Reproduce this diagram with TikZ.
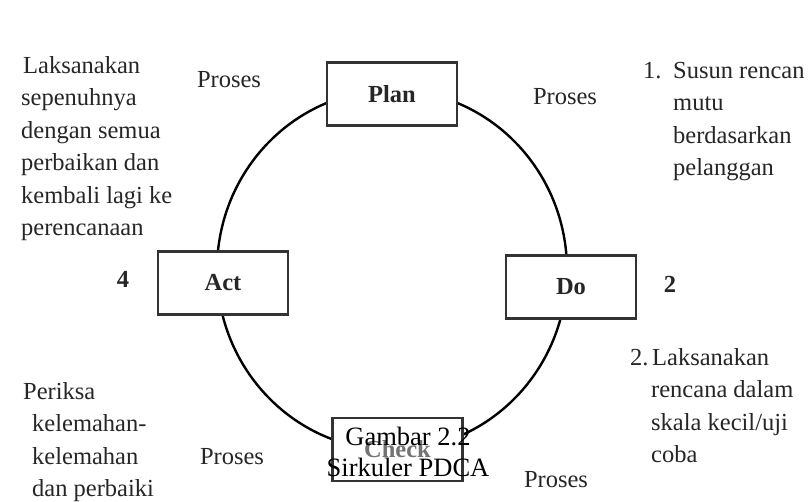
\documentclass[tikz,border=0pt]{standalone}
\usepackage{fontspec}
\setmainfont{Liberation Serif}

\begin{document}
\begin{tikzpicture}[x=1pt,y=-1pt]
\tikzstyle{every node}+=[inner sep=0pt, text=black!85]
\tikzstyle{pdcabox}=[draw=black!80, line width=2.4pt, fill=white, minimum width=130pt, minimum height=63pt, font=\fontsize{24.5}{32}\selectfont\bfseries]
% base of a note = baseline of its last line
\tikzstyle{note}=[align=left, anchor=base west, font=\fontsize{24.5}{32.5}\selectfont]
\tikzstyle{word}=[font=\fontsize{24.5}{32}\selectfont]
\tikzstyle{caption}=[align=center, text=black, font=\fontsize{26.5}{31}\selectfont]
\useasboundingbox [fill=white] (0,0) rectangle (811,501);
% the cycle
\coordinate (c) at (392,270);
\draw [black, line width=2.4pt] (c) ellipse [x radius=175, y radius=180];
\node [pdcabox] (plan) at (392,94) {Plan};
\node [pdcabox] (act) at (223,283) {Act};
\node [pdcabox] (do) at (571,287) {Do};
\node [pdcabox, text=black!55] (check) at (397.5,449.5) {Check};
\node [word, font=\fontsize{24.5}{32}\selectfont\bfseries] (four) at (123,279) {4};
\node [word, font=\fontsize{24.5}{32}\selectfont\bfseries] (two) at (670,284) {2};
% proses labels
\node [word] (proses1) at (229,80) {Proses};
\node [word] (proses2) at (565,97) {Proses};
\node [word] (proses3) at (556,480) {Proses};
\node [word] (proses4) at (232,457) {Proses};
% notes
\node [note] (noteplan) at (643,175.5) {\makebox[30pt][l]{1.}Susun rencan\\
  \hspace*{30pt}mutu\\ \hspace*{30pt}berdasarkan\\ \hspace*{30pt}pelanggan};
\node [note] (notedo) at (630,462.5) {\makebox[22pt][l]{2.}Laksanakan\\
  \hspace*{21pt}rencana dalam\\ \hspace*{21pt}skala kecil/uji\\ \hspace*{21pt}coba};
\node [note] (notecheck) at (23,496.5) {Periksa\\ \hspace*{9pt}kelemahan-\\
  \hspace*{9pt}kelemahan\\ \hspace*{9pt}dan perbaiki};
\node [note] (noteact) at (21,235.5) {\hspace*{2pt}Laksanakan\\ sepenuhnya\\
  dengan semua\\ perbaikan dan\\ kembali lagi ke\\ perencanaan};
% caption over the check box
\node [caption] (cap) at (408,452) {Gambar 2.2\\Sirkuler PDCA};
\end{tikzpicture}
\end{document}
